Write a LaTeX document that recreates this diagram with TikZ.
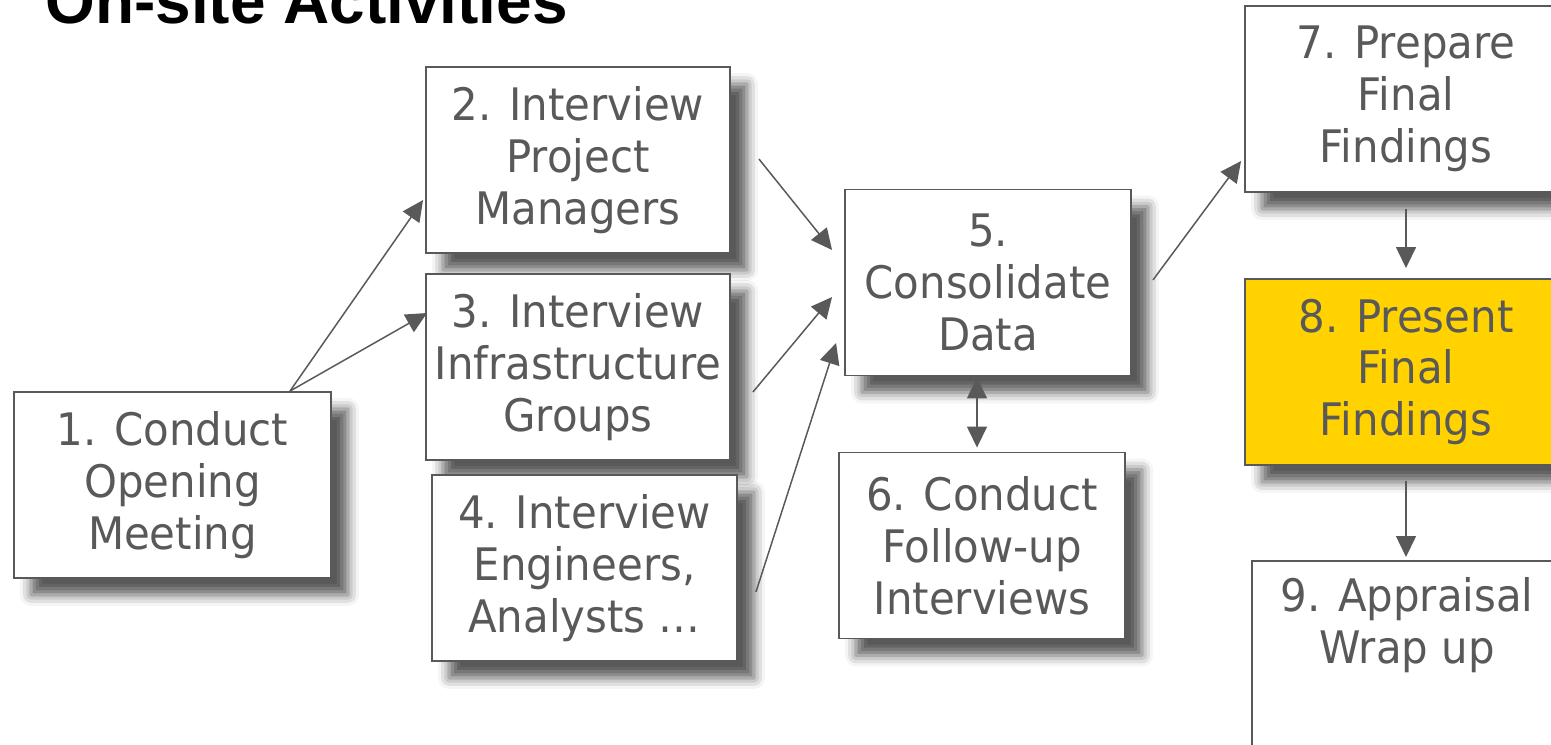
\documentclass[tikz,border=0pt]{standalone}
\usepackage{fontspec}
\setmainfont{DejaVu Sans}[FakeStretch=0.935]
\newfontfamily\headfont{Liberation Sans}
\usetikzlibrary{arrows.meta,calc,shadows.blur}

\definecolor{lineGray}{HTML}{595959}
\definecolor{stepYellow}{HTML}{FFD200}

\begin{document}
\begin{tikzpicture}
[x=0.02cm,y=-0.02cm,
  boxDecorate/.style={shape=rectangle,draw=lineGray,line width=1.1pt,fill=white,
    inner sep=0pt,minimum height=3.72cm,align=center,text=lineGray,
    font=\fontsize{25.5}{29.5}\selectfont,
    blur shadow={shadow xshift=0.34cm,shadow yshift=-0.34cm,
      shadow blur radius=0.22cm,shadow opacity=65}},
  arrowDecorate/.style={draw=lineGray,line width=0.85pt,
    -{Triangle[length=0.42cm,width=0.4cm]}},
  titleDecorate/.style={inner sep=0pt,font=\headfont\bfseries\fontsize{36.4}{40}\selectfont}]
\useasboundingbox (0,0) rectangle (1551,744);
\clip (0,0) rectangle (1551,744);
%% title
\node (title) at (45,23) [titleDecorate,anchor=base west] {On-site Activities};
%% steps
\foreach \nodename/\x/\y/\w/\txt in {
  b1/172.5/485/6.34/{1. Conduct\\Opening\\Meeting},
  b2/578/160/6.08/{2. Interview\\Project\\Managers},
  b3/578/367/6.08/{3. Interview\\Infrastructure\\Groups},
  b4/584.5/568/6.10/{4. Interview\\Engineers,\\Analysts …},
  b5/988/282.5/5.72/{5.\\Consolidate\\Data},
  b6/982/545.5/5.72/{6. Conduct\\Follow-up\\Interviews},
  b7/1406/99/6.44/{7. Prepare\\Final\\Findings}}
{
  \node (\nodename) at (\x,\y) [boxDecorate,minimum width=\w cm] {\txt};
}
\node (b8) at (1406,372) [boxDecorate,minimum width=6.44cm,fill=stepYellow]
  {8. Present\\Final\\Findings};
\node (b9) at (1407,560) [boxDecorate,anchor=north,minimum width=6.2cm,minimum height=4.4cm,
  label={[anchor=north,yshift=-0.22cm,align=center,text=lineGray,
    font=\fontsize{25.5}{29.5}\selectfont]north:{9. Appraisal\\Wrap up}}] {};
%% arrows
\coordinate (split) at ($(b1.north)+(117.5,0)$);
\draw[arrowDecorate] (split) -- ($(b2.west)+(-2,40)$);
\draw[arrowDecorate] (split) -- ($(b3.west)+(2,-54)$);
\draw[arrowDecorate] ($(b2.east)+(28,-1)$) -- ($(b5.west)+(-12,-32.5)$);
\draw[arrowDecorate] ($(b3.east)+(22,25)$) -- ($(b5.west)+(-12,14.5)$);
\draw[arrowDecorate] ($(b4.east)+(18,24)$) -- ($(b5.west)+(-8,60.5)$);
\draw[arrowDecorate,{Triangle[length=0.42cm,width=0.4cm]}-{Triangle[length=0.42cm,width=0.4cm]}]
  ($(b5.south)+(-11,1)$) -- ($(b6.north)+(-5,-4)$);
\draw[arrowDecorate] ($(b5.east)+(21,-2.5)$) -- ($(b7.west)+(-3,62)$);
\draw[arrowDecorate] ($(b7.south)+(0,16)$) -- ($(b8.north)+(0,-10)$);
\draw[arrowDecorate] ($(b8.south)+(0,15)$) -- ($(b9.north)+(-1,-3)$);
\end{tikzpicture}
\end{document}
